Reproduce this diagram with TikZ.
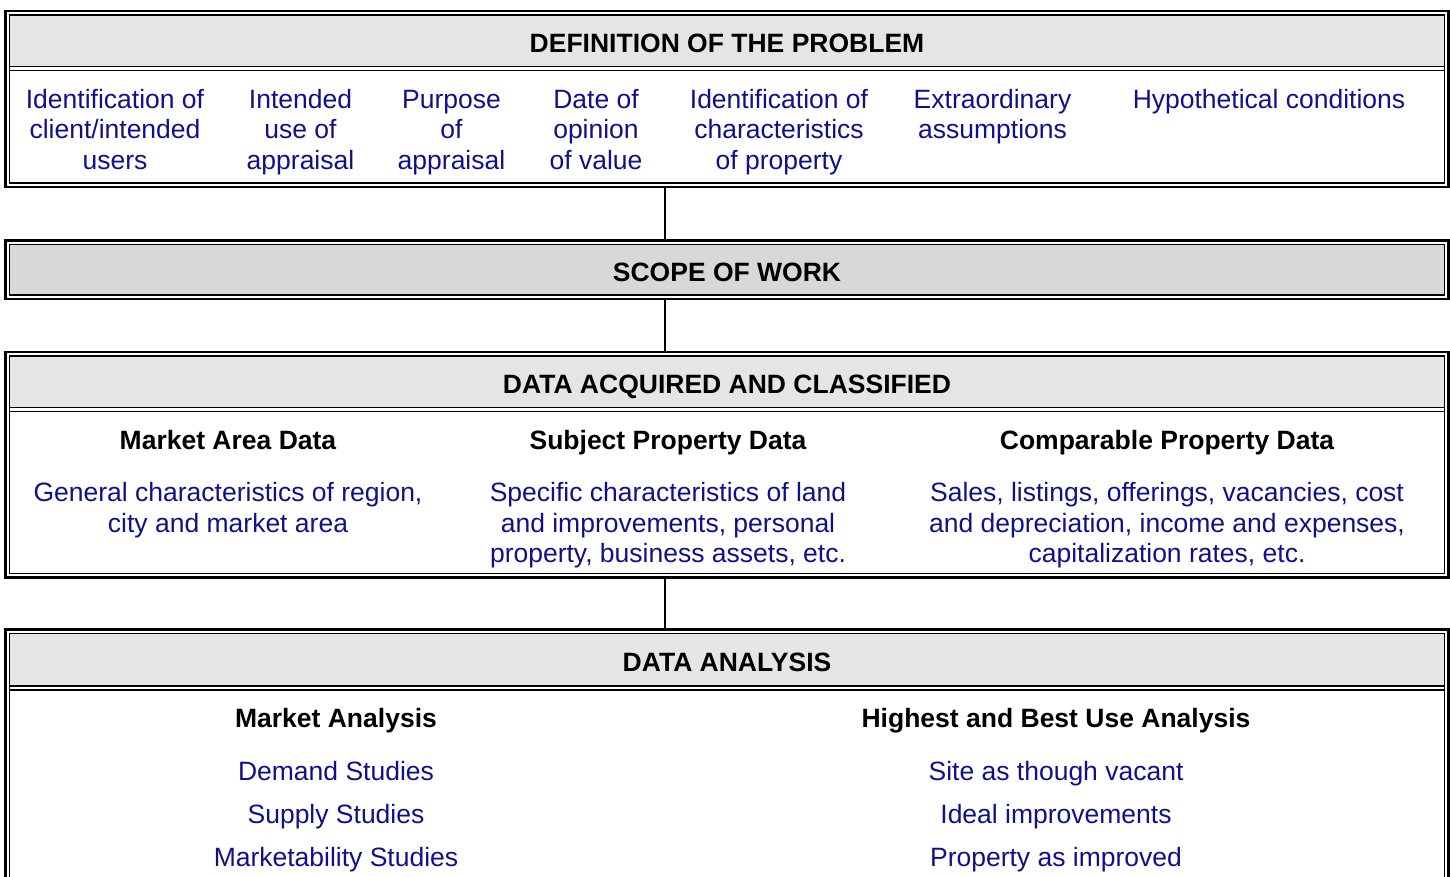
\documentclass[tikz,border=0pt]{standalone}
\usepackage{fontspec}
\setmainfont{Liberation Sans}
\usetikzlibrary{positioning}

\definecolor{detailblue}{RGB}{16,16,140}
\definecolor{bannergray}{RGB}{229,229,229}
\definecolor{scopegray}{RGB}{216,216,216}
\newcommand{\bodyfont}{\fontsize{26.5}{30.5}\selectfont}

\begin{document}
\begin{tikzpicture}[x=1pt,y=-1pt]
  \tikzstyle{frame} = [draw, line width=2.6pt, rectangle, inner sep=0pt, outer sep=0pt, minimum width=1443pt]
  \tikzstyle{rule} = [black, line width=1.8pt]
  \tikzstyle{banner} = [rectangle, fill=bannergray, inner sep=0pt, outer sep=0pt, minimum width=1435pt, minimum height=51.5pt, text height=23pt, text depth=0pt, font={\bodyfont\bfseries}]
  \tikzstyle{topic} = [anchor=base, inner sep=0pt, font={\bodyfont\bfseries}]
  % base of a multi-line detail is the baseline of its last line
  \tikzstyle{detail} = [anchor=base, align=center, inner sep=0pt, text=detailblue, font=\bodyfont]
  \tikzstyle{entry} = [inner sep=0pt, text=detailblue, font=\bodyfont, text height=19pt, text depth=5.5pt, node distance=43pt]
  \tikzstyle{link} = [black, line width=2pt]

  \useasboundingbox (0,0) rectangle (1450,877);
  \clip (0,0) rectangle (1450,877);

  % outer frames
  \node[frame, minimum height=176pt]   (problem)  at (727,99)     {};
  \node[frame, minimum height=58.5pt]  (scope)    at (727,269.75) {};
  \node[frame, minimum height=225.5pt] (data)     at (727,464.75) {};
  \node[frame, minimum height=300pt]   (analysis) at (727,779.5)  {};

  % grey title bands
  \node[banner, below=4pt of problem.north] (problemhead) {DEFINITION OF THE PROBLEM};
  \node[banner, fill=scopegray, minimum height=50.5pt, below=4pt of scope.north] (scopehead) {SCOPE OF WORK};
  \node[banner, below=4pt of data.north] (datahead) {DATA ACQUIRED AND CLASSIFIED};
  \node[banner, minimum height=52.5pt, below=4pt of analysis.north] (analysishead) {DATA ANALYSIS};

  % inner frames and double rules under the bands
  \foreach \blk in {problem,scope,data,analysis}
    \draw[rule] ([shift={(4,4)}]\blk.north west) rectangle ([shift={(-4,-4)}]\blk.south east);
  \foreach \blk in {problemhead,datahead,analysishead} {
    \draw[rule] (\blk.south west) -- (\blk.south east);
    \draw[rule] ([shift={(0,4)}]\blk.south west) -- ([shift={(0,4)}]\blk.south east);
  }

  % links between the stages
  \coordinate (spine) at (665,0);
  \draw[link] (problem.south -| spine) -- (scope.north -| spine);
  \draw[link] (scope.south -| spine) -- (data.north -| spine);
  \draw[link] (data.south -| spine) -- (analysis.north -| spine);

  % problem
  \node[detail] (client)      at (115,169.5)   {Identification of\\client/intended\\users};
  \node[detail] (use)         at (300.5,169.5) {Intended\\use of\\appraisal};
  \node[detail] (purpose)     at (451.5,169.5) {Purpose\\of\\appraisal};
  \node[detail] (date)        at (596,169.5)   {Date of\\opinion\\of value};
  \node[detail] (traits)      at (779,169.5)   {Identification of\\characteristics\\of property};
  \node[detail] (assumptions) at (992.5,139)   {Extraordinary\\assumptions};
  \node[detail] (conditions)  at (1269,108.5)  {Hypothetical conditions};

  % data
  \node[topic] (marketarea) at (228,449)  {Market Area Data};
  \node[topic] (subject)    at (668,449)  {Subject Property Data};
  \node[topic] (comparable) at (1167,449) {Comparable Property Data};
  \node[detail] (marketareatext) at (228,532)    {General characteristics of region,\\city and market area};
  \node[detail] (subjecttext)    at (668,562.5)  {Specific characteristics of land\\and improvements, personal\\property, business assets, etc.};
  \node[detail] (comparabletext) at (1167,562.5) {Sales, listings, offerings, vacancies, cost\\and depreciation, income and expenses,\\capitalization rates, etc.};

  % analysis
  \node[topic] (market) at (336,727.5)  {Market Analysis};
  \node[topic] (hbu)    at (1056,727.5) {Highest and Best Use Analysis};
  \node[entry] (demand)        at (336,773.75) {Demand Studies};
  \node[entry] (supply)        [below of=demand] {Supply Studies};
  \node[entry] (marketability) [below of=supply] {Marketability Studies};
  \node[entry] (vacant)        at (1056,773.75) {Site as though vacant};
  \node[entry] (ideal)         [below of=vacant] {Ideal improvements};
  \node[entry] (improved)      [below of=ideal] {Property as improved};
\end{tikzpicture}
\end{document}
